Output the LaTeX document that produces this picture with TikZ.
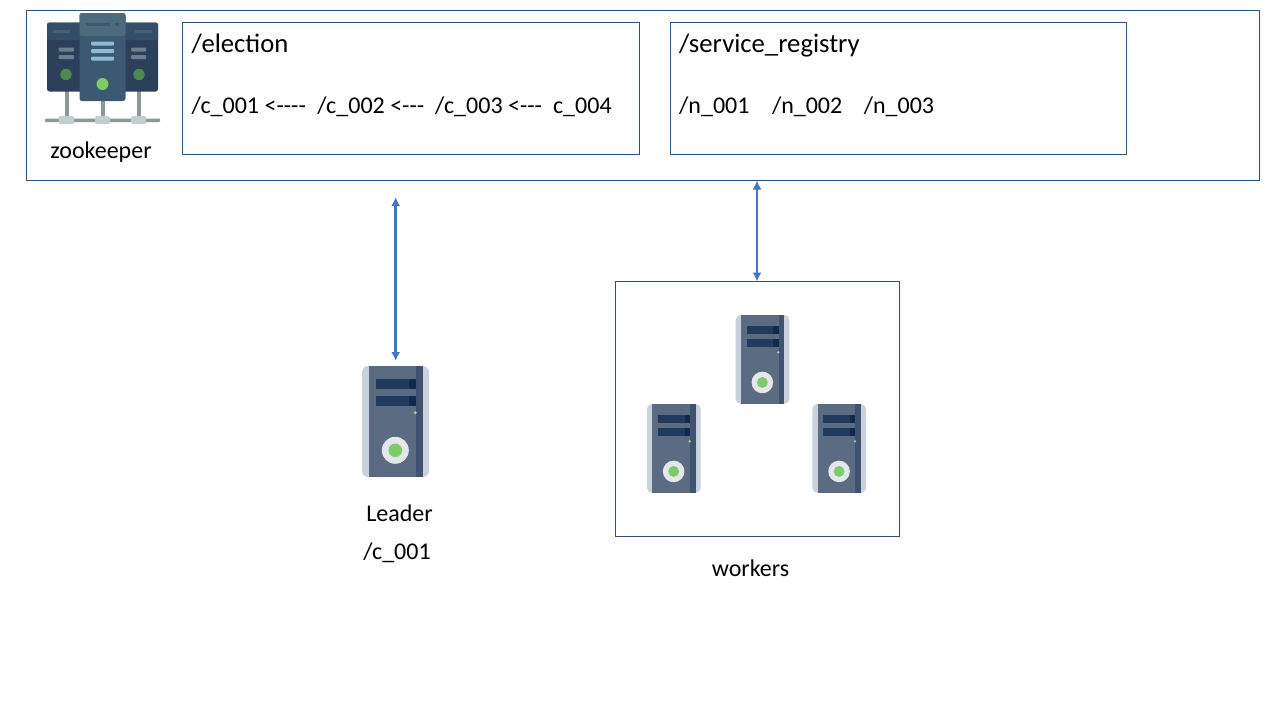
\documentclass[tikz,border=0pt]{standalone}
\usepackage{fontspec}
\setmainfont{Carlito}
\usetikzlibrary{arrows.meta}
\definecolor{boxline}{HTML}{2F5274}
\definecolor{arrowblue}{HTML}{4472C4}
\definecolor{srvside}{HTML}{C9D1DC}
\definecolor{srvbody}{HTML}{5A6B82}
\definecolor{srvstripe}{HTML}{3F5370}
\definecolor{srvslot}{HTML}{223B5C}
\definecolor{srvslotd}{HTML}{11294A}
\definecolor{srvgreen}{HTML}{7CCB68}
\definecolor{srvring}{HTML}{E3E6EA}
\definecolor{zkdark}{HTML}{2C4059}
\definecolor{zkdarktop}{HTML}{334E68}
\definecolor{zkmid}{HTML}{3B5A72}
\definecolor{zkmidtop}{HTML}{4C6B7C}
\definecolor{zkgrey}{HTML}{8C9798}
\definecolor{zkjoint}{HTML}{C5CCD0}
\definecolor{zkbar}{HTML}{8FBAD6}
\definecolor{zkdgreen}{HTML}{4E8A50}
\definecolor{zkbarside}{HTML}{6D7F8E}
\tikzset{
  x=1pt,y=-1pt,
  framebox/.style={draw=boxline,line width=0.8pt,fill=none,inner sep=0pt,outer sep=0pt},
  head/.style={inner sep=0pt,anchor=base west,font=\fontsize{26.67}{30}\selectfont},
  body/.style={inner sep=0pt,anchor=base west,font=\fontsize{24}{28}\selectfont},
  cap text/.style={inner sep=0pt,anchor=base,font=\fontsize{24}{28}\selectfont},
  link/.style={draw=arrowblue,line width=2.6pt,{Latex[length=9pt,width=9pt]}-{Latex[length=9pt,width=9pt]}},
}
% #1 left, #2 top, #3 scale of the 67 x 111 drawing
\newcommand{\serverfig}[3]{%
  \begin{scope}[shift={(#1,#2)},x=#3pt,y=-#3pt]
    \fill[srvside,rounded corners=#3*6pt] (0,0) rectangle (67,111);
    \fill[srvbody] (6.7,0) rectangle (60.7,111);
    \fill[srvstripe] (53.7,0) rectangle (60.7,111);
    \fill[srvslot] (13.7,13.3) rectangle (53.7,23.3);
    \fill[srvslot] (13.7,30) rectangle (53.7,40);
    \fill[srvslotd] (47,13.3) rectangle (53.7,23.3);
    \fill[srvslotd] (47,30) rectangle (53.7,40);
    \fill[srvgreen!70!white] (53.3,46.7) circle (1.6);
    \fill[srvring] (33.3,84.3) circle (13.5);
    \fill[srvgreen] (33.3,84.3) circle (6.8);
  \end{scope}}
\begin{document}
\begin{tikzpicture}
\useasboundingbox (0,0) rectangle (1280,720);
\fill[white] (0,0) rectangle (1280,720);

% boxes
\node[framebox,minimum width=1233pt,minimum height=170.5pt] (zk) at (643,95.25) {};
\node[framebox,minimum width=457pt,minimum height=132pt] (election) at (411,88.5) {};
\node[framebox,minimum width=456pt,minimum height=132pt] (registry) at (898.5,88.5) {};
\node[framebox,minimum width=284pt,minimum height=255pt] (workerbox) at (757.5,409) {};

% zookeeper icon
\begin{scope}
  \fill[zkgrey] (64.5,90) rectangle (68.5,118);
  \fill[zkgrey] (100.5,90) rectangle (104.5,118);
  \fill[zkgrey] (136.5,90) rectangle (140.5,118);
  \fill[zkgrey,rounded corners=1pt] (45,118.5) rectangle (160,122);
  \fill[zkjoint,rounded corners=1.5pt] (58.5,116) rectangle (74,124);
  \fill[zkjoint,rounded corners=1.5pt] (95,116) rectangle (110,124);
  \fill[zkjoint,rounded corners=1.5pt] (131,116) rectangle (146,124);
  \fill[zkdark,rounded corners=2.5pt] (47,22.5) rectangle (158,91.5);
  \fill[zkdarktop,rounded corners=2.5pt] (47,22.5) rectangle (158,40);
  \fill[zkdark!85!white] (53,30) rectangle (70,33);
  \fill[zkdark!85!white] (135,30) rectangle (152,33);
  \fill[zkbarside,rounded corners=1pt] (58.5,47.5) rectangle (74,51.5);
  \fill[zkbarside,rounded corners=1pt] (58.5,55) rectangle (74,59);
  \fill[zkbarside,rounded corners=1pt] (131,47.5) rectangle (146,51.5);
  \fill[zkbarside,rounded corners=1pt] (131,55) rectangle (146,59);
  \fill[zkdgreen] (66,74.5) circle (5.7);
  \fill[zkdgreen] (139,74.5) circle (5.7);
  \fill[zkmid,rounded corners=2.5pt] (79.5,13) rectangle (125.5,101);
  \fill[zkmidtop,rounded corners=2.5pt] (79.5,13) rectangle (125.5,36);
  \fill[zkmid] (85.5,22.5) rectangle (110,26);
  \fill[zkmid] (114.5,22.5) rectangle (119,26);
  \fill[zkbar,rounded corners=1pt] (91,41.5) rectangle (114,45.5);
  \fill[zkbar,rounded corners=1pt] (91,49) rectangle (114,53);
  \fill[zkbar,rounded corners=1pt] (91,56.5) rectangle (114,60.5);
  \fill[srvgreen] (102.5,84) circle (6);
\end{scope}

% servers
\serverfig{362}{366}{1}
\serverfig{735.7}{315}{0.8}
\serverfig{647}{404}{0.8}
\serverfig{812.4}{404}{0.8}

% texts
\node[cap text] (zktext) at (101,158) {zookeeper};
\node[head] (eltitle) at (191.5,52) {/election};
\node[head] (regtitle) at (679,52) {/service\_registry};
\node[body] (elchain) at (191.5,113.5) {/c\_001 <{-}{-}{-}{-}\hspace{11.5pt}/c\_002 <{-}{-}{-}\hspace{11pt}/c\_003 <{-}{-}{-}\hspace{11pt}c\_004};
\node[body] (regchain) at (679,113.5) {/n\_001\hspace{22.5pt}/n\_002\hspace{21.5pt}/n\_003};
\node[cap text] (leader) at (399.5,521.5) {Leader};
\node[cap text] (leaderid) at (397,559.5) {/c\_001};
\node[cap text] (workers) at (750.5,576) {workers};

% connectors
\coordinate (lefttop) at (395.7,197);
\coordinate (leftbottom) at (395.7,361);
\path (zk.south) ++(114,0) coordinate (righttop);
\path (workerbox.north) ++(-0.5,0) coordinate (rightbottom);
\draw[link] (lefttop) -- (leftbottom);
\draw[link] (righttop) -- (rightbottom);
\end{tikzpicture}
\end{document}
